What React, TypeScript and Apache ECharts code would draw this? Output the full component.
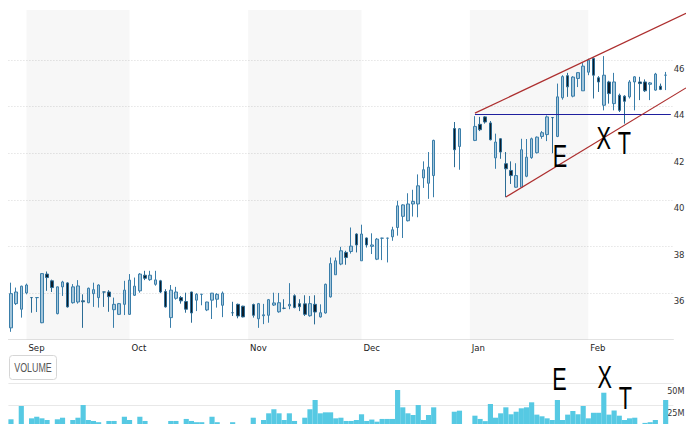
import React, { useEffect, useRef } from 'react';
import * as echarts from 'echarts';

// ---------- categories: weekday slots 29 Aug 2018 – 25 Feb 2019 ----------
const FIRST_DAY = Date.UTC(2018, 7, 29);
const SLOT_COUNT = 129;
const categories: string[] = [];
for (let t = FIRST_DAY; categories.length < SLOT_COUNT; t += 86400000) {
  const d = new Date(t);
  const wd = d.getUTCDay();
  if (wd !== 0 && wd !== 6) categories.push(d.toISOString().slice(0, 10));
}
const MONTH_ABBR = ['Jan', 'Feb', 'Mar', 'Apr', 'May', 'Jun', 'Jul', 'Aug', 'Sep', 'Oct', 'Nov', 'Dec'];
const shadedMonths = ['09', '11', '01'];

// ---------- price: [open, close, low, high] per slot (null = no trading) ----------
const ohlc: ([number, number, number, number] | null)[] = [
  [34.50, 35.97, 34.33, 36.44], [35.54, 36.04, 35.48, 36.23], [35.30, 36.29, 34.94, 36.31], [36.00, 36.34, 35.94, 36.40],
  [35.80, 35.80, 35.15, 35.82], [35.80, 35.80, 35.18, 35.82], [34.72, 36.83, 34.70, 36.85], [36.81, 36.66, 36.09, 36.92],
  [36.52, 36.23, 36.04, 36.57], [35.11, 36.26, 35.08, 36.27], [36.26, 36.47, 35.87, 36.52], [36.43, 35.40, 35.37, 36.46],
  [35.58, 36.26, 35.54, 36.38], [35.61, 36.30, 35.54, 36.55], [35.66, 35.62, 34.50, 35.94], [35.58, 36.20, 35.56, 36.23],
  [35.97, 36.14, 35.40, 36.44], [35.80, 36.34, 35.37, 36.37], [36.04, 36.04, 35.40, 36.05], [36.04, 35.84, 35.19, 36.12],
  [35.28, 35.51, 34.50, 35.80], [35.08, 35.54, 35.05, 35.57], [35.51, 36.12, 35.05, 36.52], [35.08, 36.55, 35.06, 36.81],
  [35.90, 36.29, 35.87, 36.66], [36.09, 36.81, 36.01, 36.85], [36.76, 36.63, 36.55, 36.95], [36.57, 36.76, 36.52, 36.95],
  [36.37, 36.56, 36.31, 36.95], [36.52, 36.04, 35.99, 36.56], [36.06, 35.40, 35.37, 36.16], [34.94, 36.12, 34.50, 36.34],
  [35.77, 36.04, 35.71, 36.26], [35.80, 35.66, 35.54, 35.87], [35.63, 35.30, 35.15, 36.01], [36.04, 35.14, 34.72, 36.05],
  [35.69, 35.94, 35.22, 35.99], [35.94, 35.94, 35.47, 35.95], [35.27, 35.61, 35.22, 35.62], [35.69, 35.99, 34.88, 36.00],
  [35.73, 35.94, 35.37, 35.99], [35.47, 35.99, 34.96, 36.06], null, [35.15, 35.15, 35.01, 35.62],
  [35.51, 35.01, 34.91, 35.54], [35.43, 34.97, 34.95, 35.45], null, [35.50, 35.04, 34.94, 35.54],
  [34.89, 35.54, 34.50, 35.57], [35.02, 35.06, 34.66, 35.53], [35.04, 35.71, 34.72, 35.74], [35.48, 35.57, 35.44, 36.01],
  [35.19, 35.58, 35.15, 36.00], [35.34, 35.34, 35.30, 35.73], [35.44, 35.51, 35.30, 36.42], [35.88, 35.37, 35.34, 35.94],
  [35.54, 35.41, 35.22, 35.73], [35.53, 35.08, 35.01, 35.90], [35.02, 35.54, 34.98, 35.87], [35.51, 35.18, 34.65, 35.90],
  [34.97, 35.15, 34.94, 35.51], [35.14, 36.37, 35.11, 36.40], [35.83, 37.26, 35.80, 37.52], [36.78, 37.38, 36.78, 37.52],
  [37.24, 37.81, 37.19, 37.98], [37.74, 37.52, 37.21, 37.81], [37.78, 38.01, 37.69, 38.81], [38.53, 38.06, 37.74, 38.56],
  [37.38, 38.53, 37.38, 38.93], [38.36, 38.06, 37.95, 38.38], [38.00, 38.06, 37.67, 38.56], [37.45, 38.31, 37.41, 38.36],
  [38.35, 38.35, 37.41, 38.37], [38.35, 38.35, 37.31, 38.37], [38.41, 38.71, 38.24, 38.84], [38.81, 39.74, 38.46, 39.96],
  [39.29, 39.78, 38.36, 39.81], [39.10, 39.82, 39.07, 40.28], [39.82, 39.93, 39.28, 40.43], [39.82, 40.60, 39.25, 41.09],
  [40.94, 41.29, 40.51, 41.65], [40.71, 41.40, 40.04, 42.05], [41.04, 42.55, 40.11, 42.58], null,
  null, null, [43.06, 42.15, 41.40, 43.34], [42.29, 43.05, 41.29, 43.08],
  null, null, [42.55, 43.15, 42.52, 43.59], [43.24, 43.01, 42.95, 43.56],
  [43.56, 43.34, 43.27, 43.59], [43.30, 42.58, 42.55, 43.38], [41.80, 42.48, 41.33, 42.84], [42.62, 42.05, 41.76, 42.65],
  [41.55, 41.33, 40.11, 42.05], [41.26, 41.04, 40.68, 41.65], [40.54, 41.04, 40.52, 41.57], [40.54, 42.15, 40.52, 42.62],
  [41.01, 41.83, 40.97, 42.61], [41.81, 42.62, 41.76, 42.67], [42.02, 42.69, 41.99, 42.72], [42.72, 42.88, 42.62, 42.95],
  [42.80, 43.56, 42.52, 43.62], [43.53, 43.53, 42.00, 43.55], [42.72, 44.42, 42.69, 44.99], [44.38, 45.29, 44.30, 45.35],
  [45.33, 44.85, 44.42, 45.45], [44.45, 45.27, 44.40, 45.31], [45.21, 45.46, 44.84, 45.48], [44.68, 45.74, 44.68, 45.87],
  [45.48, 46.00, 45.35, 46.06], [46.07, 45.35, 44.35, 46.12], [45.24, 45.06, 44.63, 45.31], [44.06, 45.35, 43.84, 46.17],
  [45.06, 44.56, 44.13, 45.11], [44.13, 45.06, 43.84, 45.45], [44.49, 43.84, 43.77, 44.56], [44.45, 44.23, 43.27, 44.49],
  [44.42, 45.06, 44.35, 45.14], [45.06, 45.28, 43.84, 45.31], [45.06, 44.99, 44.28, 45.28], [45.06, 44.68, 44.63, 45.17],
  [44.96, 45.02, 44.28, 45.06], [44.71, 45.40, 44.68, 45.45], [44.88, 44.74, 44.71, 44.99], [45.35, 45.35, 44.71, 45.49],
  null,
];

// ---------- volume (millions) per slot ----------
const volumes: (number | null)[] = [
  9.1, 2, 24.2, 2, 10.2, 12, 10.2, 8.3, 2, 9.1,
  10.9, 2, 8.3, 10.9, 25.3, 8.3, 7.2, 5.8, 2, 7.2,
  7.2, 3, 12, 8.3, 3, 12, 7.2, 2, 3, 2,
  3, 7.2, 7.2, 3, 9.5, 7.2, 5.8, 5.8, 3, 12,
  5.8, 2, null, 5.8, 3, 2, null, 10.9, 3, 8.3,
  15.9, 20.5, 15.9, 8.3, 15.9, 7.2, 3, 10.9, 20.5, 31,
  15.9, 17, 17, 10.2, 10.9, 7.2, 7.2, 8.3, 14.8, 7.2,
  8.8, 6.4, 9.5, 9.5, 9.5, 42.4, 22.7, 15.9, 14, 25.3,
  8.3, 14, 22.7, null, null, null, 17.7, 18.9, null, null,
  13.2, 9.5, 7, 26.5, 10.9, 15.9, 22.7, 14.8, 17.7, 21.6,
  22.7, 28.4, 14.4, 12.5, 10.2, 8.3, 31, 8.3, 14.4, 18.5,
  14.8, 24.2, 10.2, 16.5, 16.5, 39.3, 14.4, 19.1, 13.2, 8.3,
  10.2, 10.9, 3, 5, 5.8, 8.3, 3, 31, null,
];

// ---------- annotations (slot index, price) ----------
const supportLevel = { from: 90, to: 128, value: 43.67 };
const upperTrend = { from: [90, 43.72], to: [128, 47.70] };
const lowerTrend = { from: [96, 40.12], to: [128, 44.41] };
const priceLetters: [string, number, number][] = [['E', 106, 41.86], ['X', 115, 42.61], ['T', 119, 42.42]];
const volumeLetters: [string, number, number][] = [['E', 106, 53.7], ['X', 115, 56.6], ['T', 119, 32.5]];

const FONT = "'Liberation Sans Narrow', 'Arial Narrow', 'DejaVu Sans Condensed', 'Liberation Sans', sans-serif";

const monthStarts = new Set<number>();
categories.forEach((c, i) => {
  if (i > 0 && c.slice(5, 7) !== categories[i - 1].slice(5, 7)) monthStarts.add(i);
});
const bands: [number, number][] = [];
categories.forEach((c, i) => {
  if (monthStarts.has(i) && shadedMonths.includes(c.slice(5, 7))) {
    let j = i + 1;
    while (j < categories.length && !monthStarts.has(j)) j++;
    bands.push([i, Math.min(j, categories.length - 1)]);
  }
});

const GRID_LEFT = 8.4;
const GRID_WIDTH = 665;
const CHART_W = 686;
// right-aligned axis labels end 1.5px inside the page edge
const LABEL_MARGIN = CHART_W - (GRID_LEFT + GRID_WIDTH) - 1.5;

export default function App() {
  const ref = useRef<HTMLDivElement>(null);
  useEffect(() => {
    const chart = echarts.init(ref.current!, null, { renderer: 'svg' });
    const gridColor = '#d9d9d9';
    const clear = 'rgba(0,0,0,0)';
    const option: any = {
      animation: false,
      backgroundColor: '#ffffff',
      grid: [
        { left: GRID_LEFT, top: 10, width: GRID_WIDTH, height: 329.5, outerBoundsMode: 'none', containLabel: false },
        { left: GRID_LEFT, top: 383.3, width: GRID_WIDTH, height: 44, outerBoundsMode: 'none', containLabel: false },
      ],
      xAxis: [
        {
          type: 'category', gridIndex: 0, data: categories, boundaryGap: true,
          axisLine: { show: true, lineStyle: { color: '#e2e2e2', width: 1 } },
          axisTick: { show: false },
          splitLine: { show: false },
          axisLabel: {
            interval: (i: number) => monthStarts.has(i),
            formatter: (v: string) => MONTH_ABBR[parseInt(v.slice(5, 7), 10) - 1],
            align: 'left', margin: 3, padding: [0, 0, 0, 2],
            fontSize: 9.5, color: '#222', fontFamily: FONT,
          },
        },
        { type: 'category', gridIndex: 1, data: categories, boundaryGap: true, show: false },
      ],
      yAxis: [
        {
          type: 'value', gridIndex: 0, position: 'right', min: 34, max: 48.15, interval: 2,
          axisLine: { show: false }, axisTick: { show: false },
          axisLabel: {
            formatter: (v: number) => (v >= 36 && v <= 46 && Number.isInteger(v) ? String(v) : ''),
            align: 'right', verticalAlign: 'top', margin: LABEL_MARGIN, padding: [3, 0, 0, 0],
            fontSize: 9.5, color: '#333', fontFamily: FONT,
          },
          splitLine: {
            show: true,
            lineStyle: {
              color: [clear, gridColor, gridColor, gridColor, gridColor, gridColor, gridColor, clear, clear],
              type: [1, 2], width: 1,
            },
          },
        },
        {
          type: 'value', gridIndex: 1, position: 'right', min: 0, max: 50, interval: 25,
          axisLine: { show: false }, axisTick: { show: false },
          axisLabel: {
            formatter: (v: number) => (v === 0 ? '' : v + 'M'),
            align: 'right', verticalAlign: 'top', margin: LABEL_MARGIN, padding: [3, 0, 0, 0],
            fontSize: 9, color: '#333', fontFamily: FONT,
          },
          splitLine: { show: true, lineStyle: { color: [clear, '#e8e8e8', '#e8e8e8'], width: 1 } },
        },
      ],
      series: [
        {
          type: 'candlestick', xAxisIndex: 0, yAxisIndex: 0,
          data: ohlc.map((r) => (r ? r : ['-', '-', '-', '-'])),
          barWidth: 3,
          itemStyle: {
            color: '#a3c5da', color0: '#0e1c28',
            borderColor: '#3a7eaa', borderColor0: '#2c6c95', borderWidth: 1,
          },
          markArea: {
            silent: true,
            itemStyle: { color: 'rgba(0,0,0,0.032)' },
            data: bands.map(([a, b]) => [{ xAxis: categories[a] }, { xAxis: categories[b] }]),
          },
          markLine: {
            silent: true, symbol: ['none', 'none'], label: { show: false },
            lineStyle: { color: '#1f1f9e', width: 1.2, type: 'solid' },
            data: [[
              { coord: [categories[supportLevel.from], supportLevel.value] },
              { coord: [categories[supportLevel.to], supportLevel.value] },
            ]],
          },
        },
        {
          type: 'bar', xAxisIndex: 1, yAxisIndex: 1,
          data: volumes.map((v) => (v == null ? '-' : v)),
          barCategoryGap: '0%',
          itemStyle: { color: '#56c9e3' },
        },
      ],
    };
    chart.setOption(option);

    const px = (g: number, slot: number, v: number) =>
      chart.convertToPixel({ gridIndex: g } as any, [slot, v]) as number[];
    const W = chart.getWidth();
    const trendLine = (t: { from: number[]; to: number[] }) => {
      const p0 = px(0, t.from[0], t.from[1]);
      const p1 = px(0, t.to[0], t.to[1]);
      const slope = (p1[1] - p0[1]) / (p1[0] - p0[0]);
      return {
        type: 'line', z: 100, silent: true,
        shape: { x1: p0[0], y1: p0[1], x2: W, y2: p0[1] + slope * (W - p0[0]) },
        style: { stroke: '#ad2f2f', lineWidth: 1.2 },
      };
    };
    const letter = (g: number, [t, slot, v]: [string, number, number], dx: number) => {
      const p = px(g, slot, v);
      return {
        type: 'text', z: 101, silent: true, x: p[0] + dx, y: p[1], scaleX: 0.7,
        style: { text: t, fontSize: 31, fontFamily: 'Liberation Sans', fill: '#000', align: 'center', verticalAlign: 'middle' },
      };
    };
    chart.setOption({
      graphic: [
        trendLine(upperTrend),
        trendLine(lowerTrend),
        ...priceLetters.map((l, i) => letter(0, l, i === 0 ? 2.5 : 0)),
        ...volumeLetters.map((l, i) => letter(1, l, i === 0 ? 2 : 1)),
        {
          type: 'rect', z: 100, silent: true,
          shape: { x: 9.5, y: 355.5, width: 47, height: 24, r: 3 },
          style: { fill: '#fff', stroke: '#d6d6d6', lineWidth: 1 },
        },
        {
          type: 'text', z: 101, silent: true, x: 33, y: 367.5, scaleX: 0.66,
          style: { text: 'VOLUME', fontSize: 13.5, fontFamily: 'Liberation Sans', fill: '#555', align: 'center', verticalAlign: 'middle' },
        },
      ],
    });
    return () => chart.dispose();
  }, []);
  return <div ref={ref} style={{ position: 'absolute', left: 0, top: 0, width: CHART_W, height: 424 }} />;
}
